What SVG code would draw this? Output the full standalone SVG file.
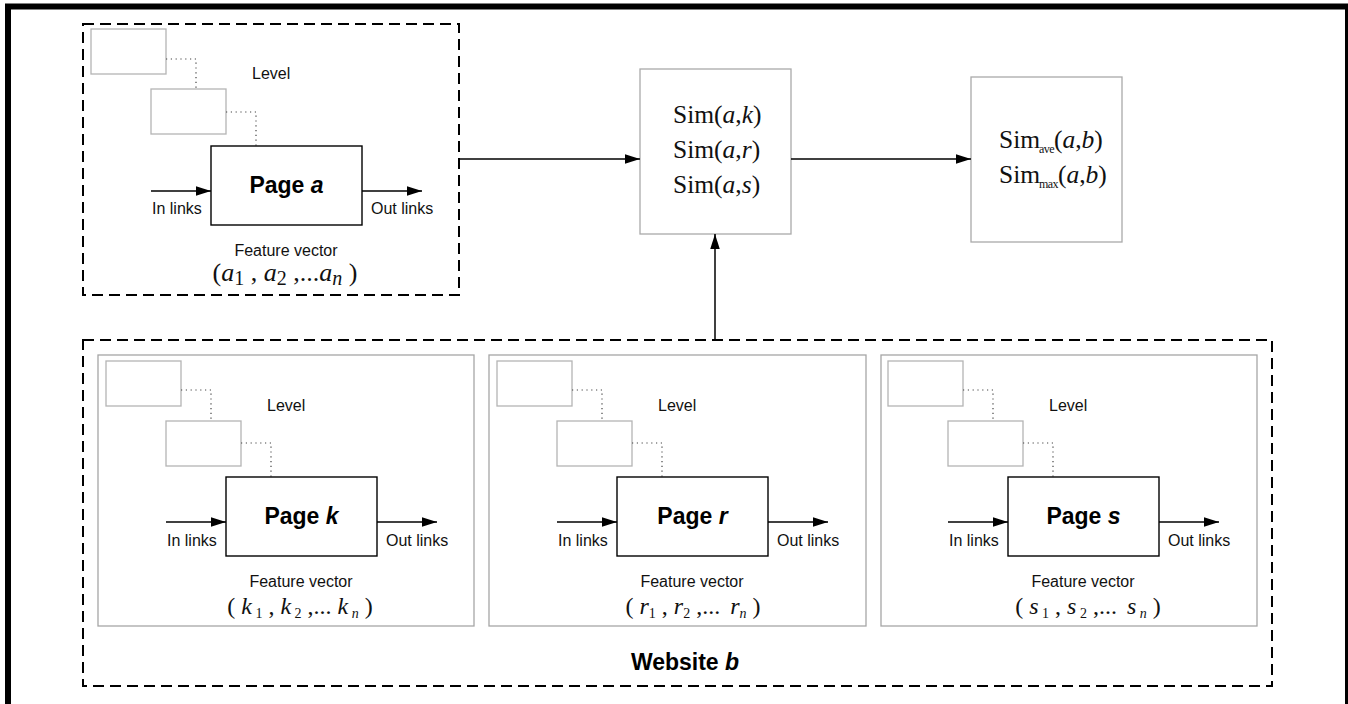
<svg xmlns="http://www.w3.org/2000/svg" width="1348" height="704" viewBox="0 0 1348 704">
<defs>
<marker id="arr" markerUnits="userSpaceOnUse" markerWidth="16" markerHeight="10" refX="15" refY="4.75" orient="auto">
<path d="M0,0 L15,4.75 L0,9.5 z" fill="#000"/>
</marker>
<style>
.frame{fill:none;stroke:#000;stroke-width:6}
.dash{fill:none;stroke:#000;stroke-width:2;stroke-dasharray:11 6}
.panel{fill:#fff;stroke:#a6a6a6;stroke-width:1.3}
.lvl{fill:#fff;stroke:#b4b4b4;stroke-width:1.3}
.dot{fill:none;stroke:#444;stroke-width:1.2;stroke-dasharray:1.2 3.6}
.page{fill:#fff;stroke:#000;stroke-width:1.4}
.simbox{fill:#fff;stroke:#aaa;stroke-width:1.3}
.conn{fill:none;stroke:#000;stroke-width:1.5;marker-end:url(#arr)}
.lab{font-family:"Liberation Sans",Arial,sans-serif;font-size:16px;fill:#111}
.pt{font-family:"Liberation Sans",Arial,sans-serif;font-size:23px;font-weight:bold;fill:#000}
.vec{font-family:"Liberation Serif","Times New Roman",serif;font-size:24px;fill:#111}
.veca{font-family:"Liberation Serif","Times New Roman",serif;font-size:26px;fill:#111}
.sim{font-family:"Liberation Serif","Times New Roman",serif;font-size:25.5px;fill:#111}
.i{font-style:italic}
.s1{font-size:20px}
.s2{font-size:14px}
.s3{font-size:12px;letter-spacing:-0.6px}
</style>
</defs>
<rect x="0" y="0" width="1348" height="704" fill="#fff"/>
<rect class="frame" x="8" y="6.5" width="1340" height="720"/>

<g id="pageA">
<rect class="dash" x="83" y="24" width="376" height="271"/>
<rect class="lvl" x="91" y="29" width="75" height="45"/>
<rect class="lvl" x="151" y="89" width="75" height="45"/>
<path class="dot" d="M166,59 H196 V89 M226,112 H256 V146"/>
<text class="lab" x="252" y="79">Level</text>
<rect class="page" x="211" y="146" width="151" height="79"/>
<text class="pt" x="286.5" y="193" text-anchor="middle">Page <tspan class="i">a</tspan></text>
<text class="lab" x="152" y="214">In links</text>
<text class="lab" x="371" y="214">Out links</text>
<text class="lab" x="286" y="256" text-anchor="middle">Feature vector</text>
<text class="veca" x="285" y="281" text-anchor="middle">(<tspan class="i">a</tspan><tspan class="s1" dy="4">1</tspan><tspan dy="-4"> , </tspan><tspan class="i">a</tspan><tspan class="s1" dy="4">2</tspan><tspan dy="-4"> ,...</tspan><tspan class="i">a</tspan><tspan class="s1 i" dy="4">n</tspan><tspan dy="-4"> )</tspan></text>
</g>

<g id="simPairs">
<rect class="simbox" x="640" y="69" width="151" height="165"/>
<text class="sim" x="673" y="123">Sim(<tspan class="i">a</tspan>,<tspan class="i">k</tspan>)</text>
<text class="sim" x="673" y="158">Sim(<tspan class="i">a</tspan>,<tspan class="i">r</tspan>)</text>
<text class="sim" x="673" y="193">Sim(<tspan class="i">a</tspan>,<tspan class="i">s</tspan>)</text>
</g>

<g id="simSite">
<rect class="simbox" x="971" y="77" width="151" height="165"/>
<text class="sim" x="999" y="148">Sim<tspan class="s3" dx="-1" dy="5">ave</tspan><tspan dy="-5">(</tspan><tspan class="i">a</tspan>,<tspan class="i">b</tspan>)</text>
<text class="sim" x="999" y="183">Sim<tspan class="s3" dx="-1" dy="5">max</tspan><tspan dy="-5">(</tspan><tspan class="i">a</tspan>,<tspan class="i">b</tspan>)</text>
</g>

<g id="websiteB">
<rect class="dash" x="83" y="340" width="1189" height="346"/>
<text class="pt" x="685" y="670" text-anchor="middle">Website <tspan class="i">b</tspan></text>
</g>

<g id="pageK">
<rect class="panel" x="98" y="355" width="376" height="271"/>
<rect class="lvl" x="106" y="361" width="75" height="45"/>
<rect class="lvl" x="166" y="421" width="75" height="45"/>
<path class="dot" d="M181,390 H211 V421 M241,443 H271 V477"/>
<text class="lab" x="267" y="411">Level</text>
<rect class="page" x="226" y="477" width="151" height="79"/>
<text class="pt" x="301.5" y="524" text-anchor="middle">Page <tspan class="i">k</tspan></text>
<text class="lab" x="167" y="546">In links</text>
<text class="lab" x="386" y="546">Out links</text>
<text class="lab" x="301" y="587" text-anchor="middle">Feature vector</text>
<text class="vec" x="300" y="614" text-anchor="middle">( <tspan class="i">k</tspan><tspan class="s2" dy="4"> 1</tspan><tspan dy="-4"> , </tspan><tspan class="i">k</tspan><tspan class="s2" dy="4"> 2</tspan><tspan dy="-4"> ,... </tspan><tspan class="i">k</tspan><tspan class="s2 i" dy="4"> n</tspan><tspan dy="-4"> )</tspan></text>
</g>

<g id="pageR">
<rect class="panel" x="489" y="355" width="377" height="271"/>
<rect class="lvl" x="497" y="361" width="75" height="45"/>
<rect class="lvl" x="557" y="421" width="75" height="45"/>
<path class="dot" d="M572,390 H602 V421 M632,443 H662 V477"/>
<text class="lab" x="658" y="411">Level</text>
<rect class="page" x="617" y="477" width="151" height="79"/>
<text class="pt" x="692.5" y="524" text-anchor="middle">Page <tspan class="i">r</tspan></text>
<text class="lab" x="558" y="546">In links</text>
<text class="lab" x="777" y="546">Out links</text>
<text class="lab" x="692" y="587" text-anchor="middle">Feature vector</text>
<text class="vec" x="693" y="614" text-anchor="middle">( <tspan class="i">r</tspan><tspan class="s2" dy="4">1</tspan><tspan dy="-4"> , </tspan><tspan class="i">r</tspan><tspan class="s2" dy="4">2</tspan><tspan dy="-4"> ,...   </tspan><tspan class="i" dx="4">r</tspan><tspan class="s2 i" dy="4">n</tspan><tspan dy="-4"> )</tspan></text>
</g>

<g id="pageS">
<rect class="panel" x="881" y="355" width="376" height="271"/>
<rect class="lvl" x="888" y="361" width="75" height="45"/>
<rect class="lvl" x="948" y="421" width="75" height="45"/>
<path class="dot" d="M963,390 H993 V421 M1023,443 H1053 V477"/>
<text class="lab" x="1049" y="411">Level</text>
<rect class="page" x="1008" y="477" width="151" height="79"/>
<text class="pt" x="1083.5" y="524" text-anchor="middle">Page <tspan class="i">s</tspan></text>
<text class="lab" x="949" y="546">In links</text>
<text class="lab" x="1168" y="546">Out links</text>
<text class="lab" x="1083" y="587" text-anchor="middle">Feature vector</text>
<text class="vec" x="1088" y="614" text-anchor="middle">( <tspan class="i">s</tspan><tspan class="s2" dy="4"> 1</tspan><tspan dy="-4"> , </tspan><tspan class="i">s</tspan><tspan class="s2" dy="4"> 2</tspan><tspan dy="-4"> ,... </tspan><tspan class="i" dx="4">s</tspan><tspan class="s2 i" dy="4"> n</tspan><tspan dy="-4"> )</tspan></text>
</g>

<g id="connectors">
<line class="conn" x1="151" y1="191" x2="211" y2="191"/>
<line class="conn" x1="362" y1="191" x2="422" y2="191"/>
<line class="conn" x1="166" y1="522" x2="226" y2="522"/>
<line class="conn" x1="377" y1="522" x2="437" y2="522"/>
<line class="conn" x1="557" y1="522" x2="617" y2="522"/>
<line class="conn" x1="768" y1="522" x2="828" y2="522"/>
<line class="conn" x1="948" y1="522" x2="1008" y2="522"/>
<line class="conn" x1="1159" y1="522" x2="1219" y2="522"/>
<line class="conn" x1="459" y1="159" x2="640" y2="159"/>
<line class="conn" x1="791" y1="159" x2="971" y2="159"/>
<line class="conn" x1="715" y1="340" x2="715" y2="234"/>
</g>
</svg>
